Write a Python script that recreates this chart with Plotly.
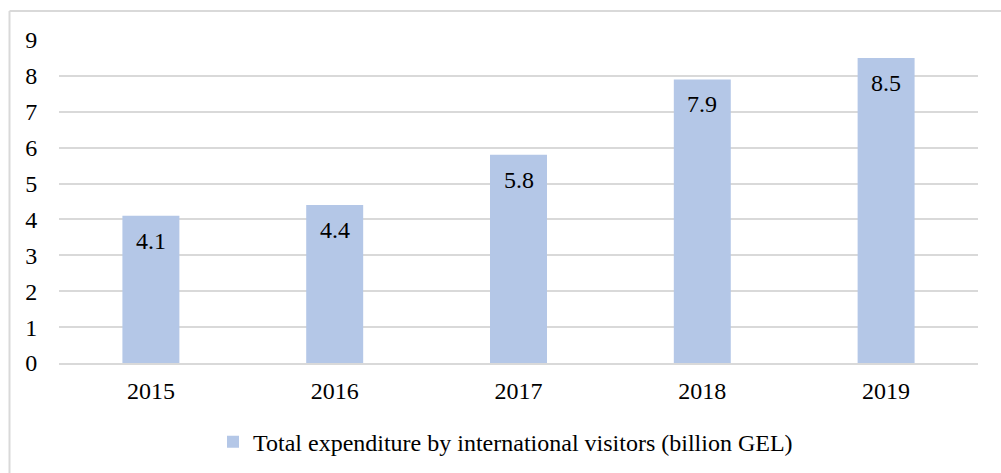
import plotly.graph_objects as go

years = ["2015", "2016", "2017", "2018", "2019"]
expenditure = [4.1, 4.4, 5.8, 7.9, 8.5]
series_name = "Total expenditure by international visitors (billion GEL)"
y_ticks = [0, 1, 2, 3, 4, 5, 6, 7, 8, 9]

FONT = "Liberation Serif, Times New Roman, serif"
FS = 24
BAR = "#b4c7e7"
GRID = "#d9d9d9"

fig = go.Figure(
    go.Bar(
        x=years,
        y=expenditure,
        name=series_name,
        marker=dict(color=BAR, line=dict(width=0)),
        showlegend=True,
    )
)

# value labels just inside the top of each bar (x given as category index)
for i, v in enumerate(expenditure):
    fig.add_annotation(
        x=i, y=v, text=f"{v:.1f}", showarrow=False,
        yanchor="top", yshift=-10,
        font=dict(family=FONT, size=FS, color="#000000"),
    )

W, H = 1001, 473
L, R, T, B = 59, 23, 40, 110
pw, ph = W - L - R, H - T - B

def px_x(p):
    return (p - L) / pw

def px_y(p):
    return (H - B - p) / ph

# chart-area frame (left and top edges)
fig.add_shape(type="line", xref="paper", yref="paper",
              x0=px_x(9.5), x1=px_x(W + 5), y0=px_y(11), y1=px_y(11),
              line=dict(color=GRID, width=2))
fig.add_shape(type="line", xref="paper", yref="paper",
              x0=px_x(9.5), x1=px_x(9.5), y0=px_y(11), y1=px_y(H + 5),
              line=dict(color=GRID, width=2))

fig.update_layout(
    width=W, height=H,
    margin=dict(l=L, r=R, t=T, b=B, autoexpand=False),
    paper_bgcolor="white", plot_bgcolor="white",
    bargap=0.69,
    font=dict(family=FONT, size=FS, color="#000000"),
    legend=dict(orientation="h", x=0.5 - 13 / pw, xanchor="center", y=-0.245, yanchor="middle",
                font=dict(family=FONT, size=FS), itemwidth=30),
    xaxis=dict(type="category", range=[-0.5, len(years) - 0.5],
               showgrid=False, showline=True, linecolor=GRID, linewidth=2,
               ticks="outside", ticklen=5, tickcolor="rgba(0,0,0,0)",
               tickfont=dict(family=FONT, size=FS)),
    yaxis=dict(range=[0, 9], tickvals=y_ticks, showgrid=True, gridcolor=GRID, gridwidth=2,
               zeroline=False, showline=False,
               ticks="outside", ticklen=16, tickcolor="rgba(0,0,0,0)",
               tickfont=dict(family=FONT, size=FS)),
)

fig.write_html("out.html")
